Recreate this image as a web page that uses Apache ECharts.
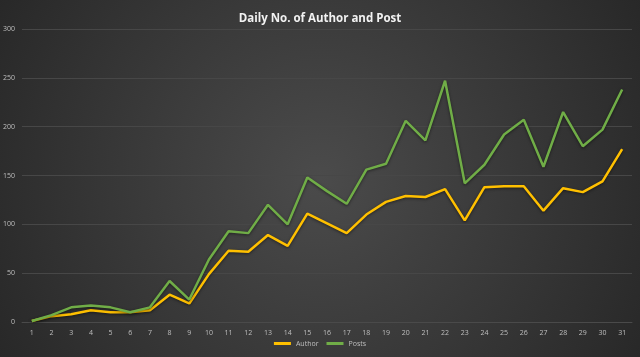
<!DOCTYPE html>
<html><head><meta charset="utf-8">
<script src="https://cdn.jsdelivr.net/npm/echarts@6/dist/echarts.min.js"></script>
<style>html,body{margin:0;padding:0;background:#333}#c{width:640px;height:357px}</style>
</head><body><div id="c"></div>
<script>
const days = ["1","2","3","4","5","6","7","8","9","10","11","12","13","14","15","16","17","18","19","20","21","22","23","24","25","26","27","28","29","30","31"];
const author = [1,6,8,12,10,10,12,28,19,49,73,72,89,78,111,101,91,110,123,129,128,136,104,138,139,139,114,137,133,144,177];
const posts = [1,7,15,17,15,10,15,42,23,64,93,91,120,100,148,134,121,156,162,206,186,247,142,161,192,207,159,215,180,197,238];
const yTicks = [0,50,100,150,200,250,300];

const chart = echarts.init(document.getElementById('c'), null, {renderer:'canvas'});
chart.setOption({
  backgroundColor: {type:'radial', x:320, y:178, r:400, global:true, colorStops:[{offset:0,color:'#4b4b4b'},{offset:1,color:'#252525'}]},
  title: {text:'Daily No. of Author and Post', left:'center', top:8,
    textStyle:{color:'#f2f2f2', fontSize:11.5, fontWeight:'bold', fontFamily:'Open Sans'}},
  legend: {bottom:5, left:'center', itemWidth:17, itemHeight:3, itemGap:8, icon:'rect',
    textStyle:{color:'#bfbfbf', fontSize:7, fontFamily:'Open Sans'}, data:['Author','Posts']},
  grid: {left:21, right:8, top:29, bottom:35},
  xAxis: {type:'category', data:days, boundaryGap:true,
    axisLine:{lineStyle:{color:'#4a4a4a'}}, axisTick:{show:false},
    axisLabel:{color:'#bfbfbf', fontSize:7, fontFamily:'Open Sans', margin:7}},
  yAxis: {type:'value', min:yTicks[0], max:yTicks[yTicks.length-1], interval:50,
    axisLine:{show:false}, axisTick:{show:false},
    axisLabel:{color:'#bfbfbf', fontSize:7, fontFamily:'Open Sans', margin:7},
    splitLine:{lineStyle:{color:'#474747', width:1}}},
  series: [
    {name:'Author', type:'line', data:author, symbol:'none', color:'#FFC000',
      lineStyle:{width:2.5, color:'#FFC000', shadowColor:'rgba(0,0,0,0.5)', shadowBlur:3, shadowOffsetY:1}},
    {name:'Posts', type:'line', data:posts, symbol:'none', color:'#70AD47',
      lineStyle:{width:2.5, color:'#70AD47', shadowColor:'rgba(0,0,0,0.5)', shadowBlur:3, shadowOffsetY:1}}
  ],
  animation:false
});
</script></body></html>
